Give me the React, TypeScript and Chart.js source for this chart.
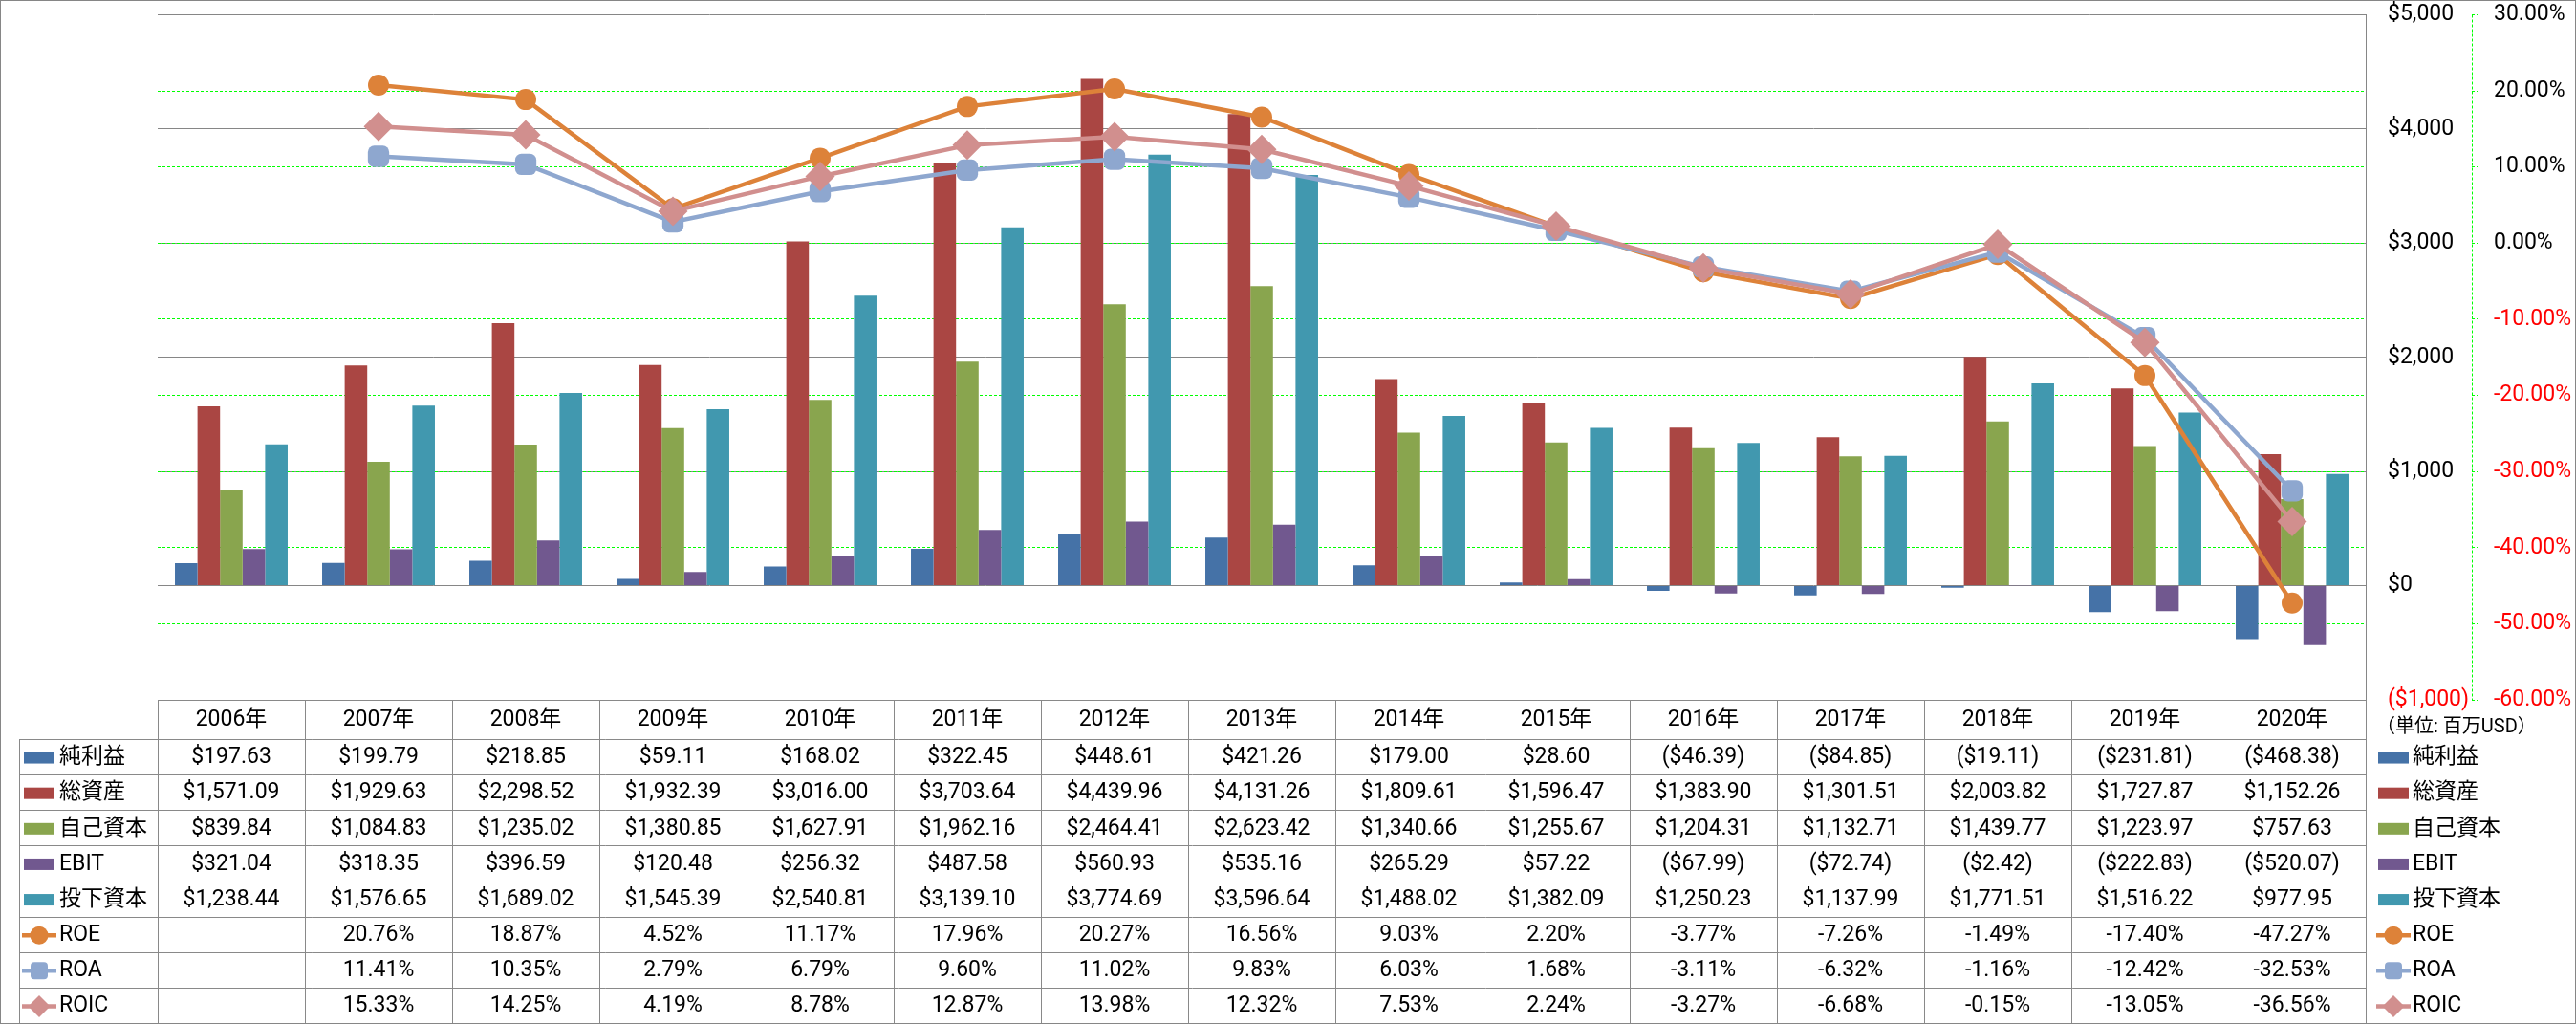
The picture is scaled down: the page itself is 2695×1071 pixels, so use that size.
import React, { useEffect, useRef } from "react";
import { Chart, registerables } from "chart.js";

Chart.register(...registerables);

// ---------- data ----------
const years = ["2006年", "2007年", "2008年", "2009年", "2010年", "2011年", "2012年", "2013年", "2014年", "2015年", "2016年", "2017年", "2018年", "2019年", "2020年"];
const netIncome = [197.63, 199.79, 218.85, 59.11, 168.02, 322.45, 448.61, 421.26, 179.0, 28.6, -46.39, -84.85, -19.11, -231.81, -468.38];
const totalAssets = [1571.09, 1929.63, 2298.52, 1932.39, 3016.0, 3703.64, 4439.96, 4131.26, 1809.61, 1596.47, 1383.9, 1301.51, 2003.82, 1727.87, 1152.26];
const equity = [839.84, 1084.83, 1235.02, 1380.85, 1627.91, 1962.16, 2464.41, 2623.42, 1340.66, 1255.67, 1204.31, 1132.71, 1439.77, 1223.97, 757.63];
const ebit = [321.04, 318.35, 396.59, 120.48, 256.32, 487.58, 560.93, 535.16, 265.29, 57.22, -67.99, -72.74, -2.42, -222.83, -520.07];
const investedCapital = [1238.44, 1576.65, 1689.02, 1545.39, 2540.81, 3139.1, 3774.69, 3596.64, 1488.02, 1382.09, 1250.23, 1137.99, 1771.51, 1516.22, 977.95];
const roe = [null, 20.76, 18.87, 4.52, 11.17, 17.96, 20.27, 16.56, 9.03, 2.2, -3.77, -7.26, -1.49, -17.4, -47.27];
const roa = [null, 11.41, 10.35, 2.79, 6.79, 9.6, 11.02, 9.83, 6.03, 1.68, -3.11, -6.32, -1.16, -12.42, -32.53];
const roic = [null, 15.33, 14.25, 4.19, 8.78, 12.87, 13.98, 12.32, 7.53, 2.24, -3.27, -6.68, -0.15, -13.05, -36.56];

const moneyAxis = { min: -1000, max: 5000, step: 1000 };
const pctAxis = { min: -60, max: 30, step: 10 };
const unitNote = "（単位: 百万USD）";

// ---------- styles ----------
const W = 2695;
const H = 1071;
const FONT = 'Roboto, "Noto Sans CJK JP", sans-serif';
const GRID_GRAY = "#868686";
const TABLE_GRAY = "#898989";
const GREEN = "#00FF00";
const GREEN_DASH = [3, 2];

const fmtMoney = (v: number) => {
  const s = Math.abs(v).toLocaleString("en-US", { minimumFractionDigits: 2, maximumFractionDigits: 2 });
  return v < 0 ? `($${s})` : `$${s}`;
};
const fmtPct = (v: number) => `${v.toFixed(2)}%`;
const fmtAxisMoney = (v: number) => {
  const s = Math.abs(v).toLocaleString("en-US");
  return v < 0 ? `($${s})` : `$${s}`;
};

function drawMarker(ctx: CanvasRenderingContext2D, style: string, color: string, x: number, y: number) {
  ctx.fillStyle = color;
  ctx.beginPath();
  if (style === "circle") {
    ctx.arc(x, y, 9.5, 0, Math.PI * 2);
  } else if (style === "rectRounded") {
    const h = 9;
    (ctx as any).roundRect(x - h, y - h, 2 * h, 2 * h, 4);
  } else {
    const r = 11.5;
    ctx.moveTo(x - r, y);
    ctx.lineTo(x, y - r);
    ctx.lineTo(x + r, y);
    ctx.lineTo(x, y + r);
    ctx.closePath();
  }
  ctx.fill();
}

function drawKey(ctx: CanvasRenderingContext2D, ds: any, cx: number, cy: number) {
  if (ds.type === "line") {
    ctx.strokeStyle = ds.borderColor;
    ctx.lineWidth = 4.5;
    ctx.beginPath();
    ctx.moveTo(cx - 18, cy);
    ctx.lineTo(cx + 18, cy);
    ctx.stroke();
    drawMarker(ctx, ds.pointStyle, ds.borderColor, cx, cy);
  } else {
    ctx.fillStyle = ds.backgroundColor;
    ctx.fillRect(cx - 16, cy - 6, 32, 12);
  }
}

const tablePlugin = {
  id: "dataTable",
  afterDraw(chart: any) {
    const ctx: CanvasRenderingContext2D = chart.ctx;
    const { left, right, top: areaTop, bottom } = chart.chartArea;
    const xs = chart.scales.x;
    const labels: string[] = chart.data.labels;
    const n = labels.length;
    const colW = (right - left) / n;
    const datasets = chart.data.datasets;
    const top = bottom;
    const headerB = top + 41;
    const tableB = H - 1;
    const rowH = (tableB - headerB) / datasets.length;
    const labelL = 20;
    const px = (v: number) => Math.round(v) + 0.5;

    ctx.save();
    // table grid
    ctx.strokeStyle = TABLE_GRAY;
    ctx.lineWidth = 1;
    ctx.setLineDash([]);
    ctx.beginPath();
    ctx.moveTo(left, px(top));
    ctx.lineTo(right, px(top));
    for (let r = 0; r <= datasets.length; r++) {
      const y = px(headerB + r * rowH);
      ctx.moveTo(labelL, y);
      ctx.lineTo(right, y);
    }
    for (let i = 0; i <= n; i++) {
      const x = px(left + i * colW);
      ctx.moveTo(x, top);
      ctx.lineTo(x, tableB);
    }
    ctx.moveTo(px(labelL), headerB);
    ctx.lineTo(px(labelL), tableB);
    ctx.stroke();

    // header
    ctx.fillStyle = "#000";
    ctx.textBaseline = "middle";
    ctx.textAlign = "center";
    ctx.font = `23px ${FONT}`;
    labels.forEach((lab, i) => ctx.fillText(lab, xs.getPixelForValue(i), (top + headerB) / 2 + 1));

    // rows + legend
    datasets.forEach((ds: any, r: number) => {
      const cy = headerB + (r + 0.5) * rowH + 1;
      ctx.fillStyle = "#000";
      ctx.textAlign = "center";
      ctx.font = `23px ${FONT}`;
      ds.data.forEach((v: number | null, i: number) => {
        if (v == null) return;
        ctx.fillText(ds.yAxisID === "y1" ? fmtPct(v) : fmtMoney(v), xs.getPixelForValue(i), cy);
      });
      // left label column
      drawKey(ctx, ds, 41, cy);
      ctx.fillStyle = "#000";
      ctx.textAlign = "left";
      ctx.font = `23px ${FONT}`;
      ctx.fillText(ds.label, 62, cy);
      // right legend
      drawKey(ctx, ds, right + 29, cy);
      ctx.fillStyle = "#000";
      ctx.textAlign = "left";
      ctx.font = `23px ${FONT}`;
      ctx.fillText(ds.label, right + 49, cy);
    });

    // unit note
    ctx.fillStyle = "#000";
    ctx.textAlign = "left";
    ctx.font = `20px ${FONT}`;
    ctx.fillText(unitNote, right + 11, top + 29);

    // dashed secondary axis line
    const y1 = chart.scales.y1;
    ctx.strokeStyle = GREEN;
    ctx.lineWidth = 1;
    ctx.setLineDash(GREEN_DASH);
    ctx.beginPath();
    ctx.moveTo(px(y1.left), areaTop);
    ctx.lineTo(px(y1.left), bottom);
    ctx.stroke();
    ctx.setLineDash([]);

    // outer border
    ctx.strokeStyle = GRID_GRAY;
    ctx.strokeRect(0.5, 0.5, W - 1, H - 1);
    ctx.restore();
  },
};

const barStyle = { categoryPercentage: 0.766, barPercentage: 1.0, borderWidth: 0, order: 10, yAxisID: "y" };

const fitRightAxis = (width: number) => (s: any) => {
  s.width = width;
  s.paddingTop = 0;
  s.paddingBottom = 0;
};

export default function App() {
  const ref = useRef<HTMLCanvasElement | null>(null);

  useEffect(() => {
    document.body.style.margin = "0";
    if (!ref.current) return;
    const chart = new Chart(ref.current, {
      type: "bar",
      data: {
        labels: years,
        datasets: [
          { ...barStyle, type: "bar", label: "純利益", data: netIncome, backgroundColor: "#4572A7" },
          { ...barStyle, type: "bar", label: "総資産", data: totalAssets, backgroundColor: "#AA4643" },
          { ...barStyle, type: "bar", label: "自己資本", data: equity, backgroundColor: "#89A54E" },
          { ...barStyle, type: "bar", label: "EBIT", data: ebit, backgroundColor: "#71588F" },
          { ...barStyle, type: "bar", label: "投下資本", data: investedCapital, backgroundColor: "#4198AF" },
          {
            type: "line", label: "ROE", data: roe, yAxisID: "y1", order: 3,
            borderColor: "#DD8239", backgroundColor: "#DD8239", borderWidth: 4.5,
            pointStyle: "circle", pointRadius: 11, pointBorderWidth: 0, pointBackgroundColor: "#DD8239",
          },
          {
            type: "line", label: "ROA", data: roa, yAxisID: "y1", order: 2,
            borderColor: "#8EA7CF", backgroundColor: "#8EA7CF", borderWidth: 4.5,
            pointStyle: "rectRounded", pointRadius: 13, pointBorderWidth: 0, pointBackgroundColor: "#8EA7CF",
          },
          {
            type: "line", label: "ROIC", data: roic, yAxisID: "y1", order: 1,
            borderColor: "#D18F8E", backgroundColor: "#D18F8E", borderWidth: 4.5,
            pointStyle: "rectRot", pointRadius: 15.5, pointBorderWidth: 0, pointBackgroundColor: "#D18F8E",
          },
        ] as any,
      },
      options: {
        responsive: false,
        devicePixelRatio: 1,
        animation: false,
        layout: { padding: { left: 165, top: 15, right: 0, bottom: H - 732 } },
        plugins: { legend: { display: false }, tooltip: { enabled: false } },
        scales: {
          x: { display: false, offset: true },
          y: {
            position: "right",
            min: moneyAxis.min,
            max: moneyAxis.max,
            afterFit: fitRightAxis(111),
            ticks: {
              stepSize: moneyAxis.step,
              autoSkip: false,
              padding: 23,
              crossAlign: "near",
              font: { family: FONT, size: 23 },
              color: (c: any) => (c.tick && c.tick.value < 0 ? "#FF0000" : "#000000"),
              callback: (v: any) => fmtAxisMoney(Number(v)),
            },
            grid: { color: GRID_GRAY, lineWidth: 1, drawTicks: false },
            border: { display: true, color: GRID_GRAY, width: 1 },
          },
          y1: {
            position: "right",
            min: pctAxis.min,
            max: pctAxis.max,
            afterFit: fitRightAxis(109),
            ticks: {
              stepSize: pctAxis.step,
              autoSkip: false,
              padding: 17,
              crossAlign: "near",
              font: { family: FONT, size: 23 },
              color: (c: any) => (c.tick && c.tick.value < 0 ? "#FF0000" : "#000000"),
              callback: (v: any) => fmtPct(Number(v)),
            },
            grid: {
              color: (c: any) => (c.tick && (c.tick.value === pctAxis.max || c.tick.value === pctAxis.min) ? "rgba(0,0,0,0)" : GREEN),
              tickColor: GREEN,
              lineWidth: 1,
              drawTicks: true,
              tickLength: 6,
              tickBorderDash: GREEN_DASH,
            },
            border: { display: false, dash: GREEN_DASH },
          },
        } as any,
      },
      plugins: [tablePlugin],
    });
    return () => chart.destroy();
  }, []);

  return <canvas ref={ref} width={W} height={H} style={{ display: "block", width: W, height: H }} />;
}
